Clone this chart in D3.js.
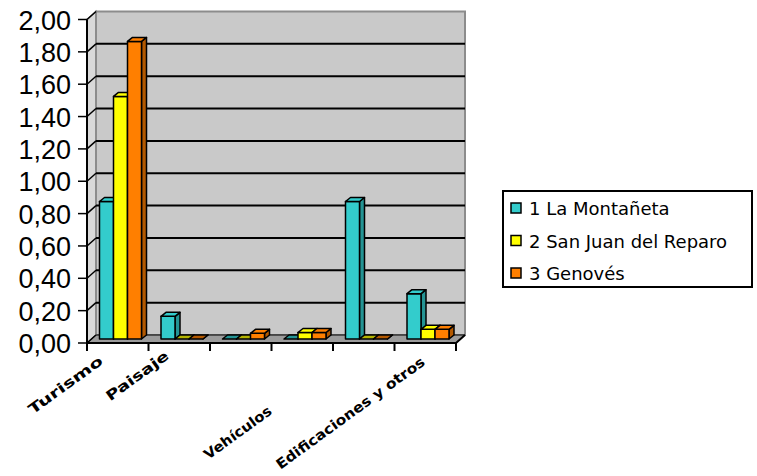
<!DOCTYPE html>
<html>
<head>
<meta charset="utf-8">
<script src="https://cdn.jsdelivr.net/npm/d3@7"></script>
<style>
  body { margin: 0; background: #fff; }
  svg { display: block; }
</style>
</head>
<body>
<div id="chart"></div>
<script>
// data
const categories = ["Turismo", "Paisaje", "", "Vehículos", "", "Edificaciones y otros"];
const seriesNames = ["1 La Montañeta", "2 San Juan del Reparo", "3 Genovés"];
const montaneta = [0.85, 0.14, 0.00, 0.00, 0.85, 0.28];
const sanJuan   = [1.50, 0.00, 0.00, 0.04, 0.00, 0.06];
const genoves   = [1.84, 0.00, 0.035, 0.04, 0.00, 0.06];
const yTicks = [0, 0.2, 0.4, 0.6, 0.8, 1.0, 1.2, 1.4, 1.6, 1.8, 2.0];

const series = [montaneta, sanJuan, genoves];
const fills = ["#33cccc", "#ffff00", "#ff7f00"];
const sides = ["#249494", "#b3b300", "#b35900"];

const W = 757, H = 476;
const svg = d3.select("#chart").append("svg")
  .attr("width", W).attr("height", H);

// front plane of the floor
const x = d3.scaleBand().domain(d3.range(categories.length)).range([87, 456]);
const y = d3.scaleLinear().domain([0, 2]).range([343, 19.5]);

// wall depth and bar depth
const wall = {dx: 9, dy: -8};
const bar = {dx: 5, dy: -4, w: 14, inset: 8};
const plane = {dx: 4.5, dy: -4}; // bars stand half way in

const line = d3.line();

// left side wall
svg.append("path")
  .attr("d", line([[87, y(0)], [87 + wall.dx, y(0) + wall.dy], [87 + wall.dx, y(2) + wall.dy], [87, y(2)]]) + "Z")
  .attr("fill", "#d9d9d9").attr("stroke", "#8c8c8c").attr("stroke-width", 1.5);

// back wall
svg.append("path")
  .attr("d", line([[87 + wall.dx, y(0) + wall.dy], [456 + wall.dx, y(0) + wall.dy], [456 + wall.dx, y(2) + wall.dy], [87 + wall.dx, y(2) + wall.dy]]) + "Z")
  .attr("fill", "#c9c9c9").attr("stroke", "#8c8c8c").attr("stroke-width", 2);

// floor
svg.append("path")
  .attr("d", line([[87, y(0)], [456, y(0)], [456 + wall.dx, y(0) + wall.dy], [87 + wall.dx, y(0) + wall.dy]]) + "Z")
  .attr("fill", "#9c9c9c").attr("stroke", "#000").attr("stroke-width", 1);

// gridlines, back wall and side wall
const grid = svg.append("g");
grid.selectAll(".gb")
  .data(yTicks.filter(d => d > 0 && d < 2))
  .enter().append("path")
  .attr("d", d => line([[87 + wall.dx, y(d) + wall.dy], [456 + wall.dx, y(d) + wall.dy]]))
  .attr("stroke", "#000").attr("stroke-width", 2);
grid.selectAll(".gs")
  .data(yTicks)
  .enter().append("path")
  .attr("d", d => line([[87, y(d)], [87 + wall.dx, y(d) + wall.dy]]))
  .attr("stroke", "#000").attr("stroke-width", 1.5);

// y axis
svg.append("path").attr("d", line([[87, y(0)], [87, y(2)]]))
  .attr("stroke", "#000").attr("stroke-width", 2);
const ya = svg.append("g");
ya.selectAll("line").data(yTicks).enter().append("line")
  .attr("x1", 78).attr("x2", 87)
  .attr("y1", d => y(d)).attr("y2", d => y(d))
  .attr("stroke", "#000").attr("stroke-width", 1.5);
ya.selectAll("text").data(yTicks).enter().append("text")
  .attr("x", 71).attr("y", d => y(d) + 10)
  .attr("text-anchor", "end")
  .attr("font-family", "Liberation Sans, Arial, sans-serif")
  .attr("font-size", 27)
  .text(d => d.toFixed(2).replace(".", ","));

// x axis line, right floor edge and category ticks
svg.append("path").attr("d", line([[87, y(0)], [456, y(0)], [456 + wall.dx, y(0) + wall.dy]]))
  .attr("stroke", "#000").attr("stroke-width", 2).attr("fill", "none");
svg.append("g").selectAll("line")
  .data(d3.range(categories.length + 1))
  .enter().append("line")
  .attr("x1", i => i < categories.length ? x(i) : x.range()[1])
  .attr("x2", i => i < categories.length ? x(i) : x.range()[1])
  .attr("y1", y(0)).attr("y2", y(0) + 8)
  .attr("stroke", "#000").attr("stroke-width", 2);

// 3d bars, drawn left to right
const bars = svg.append("g");
categories.forEach((c, i) => {
  series.forEach((s, k) => {
    const x0 = x(i) + plane.dx + bar.inset + k * bar.w;
    const x1 = x0 + bar.w;
    const yb = y(0) + plane.dy;
    const yt = y(s[i]) + plane.dy;
    const g = bars.append("g")
      .attr("stroke", "#000").attr("stroke-width", 1.5).attr("stroke-linejoin", "round");
    // side
    g.append("path")
      .attr("d", line([[x1, yb], [x1 + bar.dx, yb + bar.dy], [x1 + bar.dx, yt + bar.dy], [x1, yt]]) + "Z")
      .attr("fill", sides[k]);
    // front
    g.append("rect")
      .attr("x", x0).attr("y", yt)
      .attr("width", bar.w).attr("height", yb - yt)
      .attr("fill", fills[k]);
    // top
    g.append("path")
      .attr("d", line([[x0, yt], [x1, yt], [x1 + bar.dx, yt + bar.dy], [x0 + bar.dx, yt + bar.dy]]) + "Z")
      .attr("fill", s[i] > 0.02 ? fills[k] : sides[k]);
  });
});

// category labels, rotated, end of text near the tick
const labelPos = [[104, 363], [170, 358], [0, 0], [273, 413], [0, 0], [426, 364]];
const labelLen = [88, 74, 0, 80, 0, 180];
svg.append("g").selectAll("text")
  .data(categories)
  .enter().append("text")
  .filter(d => d !== "")
  .attr("transform", (d, i) => {
    const j = categories.indexOf(d);
    return "translate(" + labelPos[j][0] + "," + labelPos[j][1] + ") rotate(-36)";
  })
  .attr("text-anchor", "end")
  .attr("font-family", "DejaVu Sans, sans-serif")
  .attr("font-size", 14)
  .attr("font-weight", "bold")
  .attr("textLength", d => labelLen[categories.indexOf(d)])
  .attr("lengthAdjust", "spacingAndGlyphs")
  .text(d => d);

// legend
const lg = svg.append("g");
lg.append("defs").append("clipPath").attr("id", "lgclip")
  .append("rect").attr("x", 503).attr("y", 191).attr("width", 249).attr("height", 96);
lg.append("rect")
  .attr("x", 503).attr("y", 191).attr("width", 249).attr("height", 96)
  .attr("fill", "#fff").attr("stroke", "#000").attr("stroke-width", 2);
const items = lg.append("g").attr("clip-path", "url(#lgclip)")
  .selectAll("g").data(seriesNames).enter().append("g")
  .attr("transform", (d, i) => "translate(0," + (208 + i * 32.5) + ")");
items.append("rect")
  .attr("x", 511).attr("y", -5).attr("width", 10).attr("height", 10)
  .attr("fill", (d, i) => fills[i]).attr("stroke", "#000").attr("stroke-width", 1.5);
items.append("text")
  .attr("x", 529).attr("y", 7)
  .attr("font-family", "DejaVu Sans, sans-serif")
  .attr("font-size", 18)
  .text(d => d);
</script>
</body>
</html>
